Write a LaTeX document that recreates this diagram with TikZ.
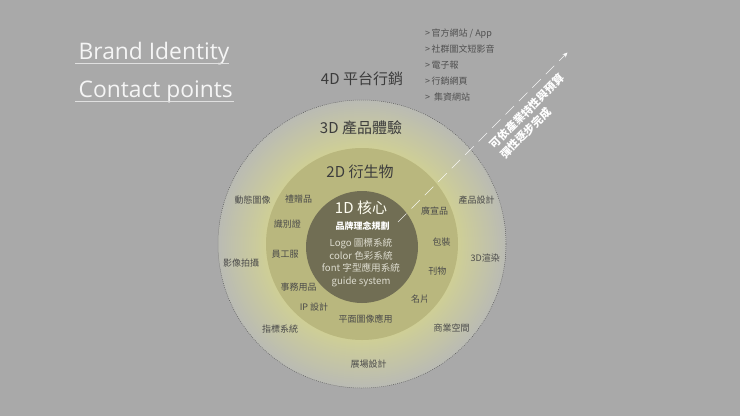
\documentclass[tikz,border=0pt]{standalone}
\usepackage{fontspec}
\setmainfont{Noto Sans CJK TC}
\newfontfamily\brandfont{Open Sans}
\usetikzlibrary{arrows.meta}
\definecolor{bg}{HTML}{A9A9A9}
\definecolor{outerA}{HTML}{BABBB4}
\definecolor{outerB}{HTML}{CFCF96}
\definecolor{ringtwo}{HTML}{B9B77E}
\definecolor{core}{HTML}{716E54}
\definecolor{txt}{HTML}{4A4A4A}
\definecolor{txtbig}{HTML}{3C3C3C}
\definecolor{coretxt}{HTML}{DEDDD0}
\definecolor{listtxt}{HTML}{505050}
\newcommand\fsz[1]{\fontsize{#1}{#1}\selectfont}
\begin{document}
\begin{tikzpicture}[x=1pt,y=-1pt,
  lbl/.style={text=txt,font=\fsz{9},inner sep=0pt},
  big/.style={text=txtbig,font=\fsz{15},inner sep=0pt},
  title/.style={text=white!96!black,font=\brandfont\fsz{22.8},inner sep=0pt,anchor=base west},
  uline/.style={draw=white!88!black,line width=0.9pt},
  listitem/.style={text=listtxt,font=\fsz{9},inner sep=0pt,anchor=west},
  corebig/.style={text=white!95!yellow,font=\fsz{15},inner sep=0pt},
  diag/.style={draw=white,draw opacity=0.85,line width=0.5pt,dash pattern=on 12pt off 7pt,-{Stealth[length=5pt,width=4.5pt]}}
]
\useasboundingbox (0,0) rectangle (740,416);
\fill[bg] (0,0) rectangle (740,416);

% circles
\coordinate (c) at (362,244);
\foreach \i in {0,...,48}{
  \pgfmathsetmacro\r{144-\i}
  \pgfmathsetmacro\p{100*(\i/48)}
  \fill[outerB!\p!outerA] (c) circle (\r);
}
\draw[draw=black!65,line width=0.5pt,dash pattern=on 0.8pt off 1.2pt] (c) circle (144);
\fill[ringtwo] (c) circle (96);
\fill[core] (362,247) circle (56);

% titles
\node[title] (brand) at (78.5,59.5) {Brand Identity};
\node[title] (contact) at (78.5,97.5) {Contact points};
\coordinate (u1a) at (75,63.5); \coordinate (u1b) at (229,63.5);
\coordinate (u2a) at (75,101); \coordinate (u2b) at (234,101);
\draw[uline] (u1a) -- (u1b);
\draw[uline] (u2a) -- (u2b);

% top-right list
\node[listitem] (l1) at (425,33.5) {>\,官方網站 / App};
\node[listitem] (l2) at (425,49.5) {>\,社群圖文短影音};
\node[listitem] (l3) at (425,65.5) {>\,電子報};
\node[listitem] (l4) at (425,81.5) {>\,行銷網頁};
\node[listitem] (l5) at (425,97.5) {>\ \ 集資網站};

% level labels
\node[big] (d4) at (362,79) {4D 平台行銷};
\node[big] (d3) at (361,127.5) {3D 產品體驗};
\node[big] (d2) at (360,171.5) {2D 衍生物};
\node[corebig] (d1) at (361,207.5) {1D 核心};
\node[text=white,font=\bfseries\fsz{9},inner sep=0pt] (core1) at (362.5,226.5) {品牌理念規劃};
\node[text=coretxt,font=\fontsize{9.6}{12.4}\selectfont,align=center,inner sep=0pt] (core2) at (361,262.7)
  {Logo 圖標系統\\color 色彩系統\\font 字型應用系統\\guide system};

% 2D ring labels
\node[lbl] (a1) at (298.7,199.3) {禮贈品};
\node[lbl] (a2) at (287.3,224.3) {識別證};
\node[lbl] (a3) at (285,254.3) {員工服};
\node[lbl] (a4) at (298.7,286.7) {事務用品};
\node[lbl] (a5) at (314,307.3) {IP 設計};
\node[lbl] (a6) at (365.7,319) {平面圖像應用};
\node[lbl] (a7) at (420,299.3) {名片};
\node[lbl] (a8) at (437.3,271) {刊物};
\node[lbl] (a9) at (441.7,241.7) {包裝};
\node[lbl] (a10) at (434.7,210.7) {廣宣品};

% 3D ring labels
\node[lbl] (b1) at (252.7,200.3) {動態圖像};
\node[lbl] (b2) at (241,263.3) {影像拍攝};
\node[lbl] (b3) at (280,329.3) {指標系統};
\node[lbl] (b4) at (368.7,364.3) {展場設計};
\node[lbl] (b5) at (451.7,328.3) {商業空間};
\node[lbl] (b6) at (485.3,257.7) {3D渲染};
\node[lbl] (b7) at (476.7,200.3) {產品設計};

% diagonal arrow and note
\coordinate (ds) at (398,222);
\coordinate (de) at (567.5,52.5);
\draw[diag] (ds) -- (de);
\node[rotate=45,anchor=west,align=left,text=white,font=\bfseries\fontsize{11}{14.5}\selectfont,inner sep=0pt] (note) at (497,151.5)
  {可依產業特性與預算\\彈性逐步完成};
\end{tikzpicture}
\end{document}
